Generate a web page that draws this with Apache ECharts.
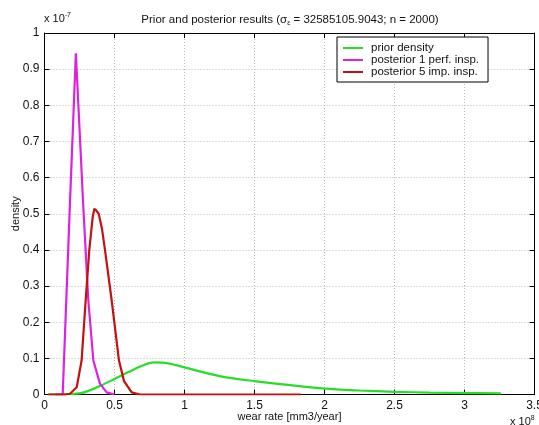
<!DOCTYPE html>
<html>
<head>
<meta charset="utf-8">
<script src="https://cdn.jsdelivr.net/npm/echarts@6/dist/echarts.min.js"></script>
<style>
html,body{margin:0;padding:0;background:#fff;}
#chart{width:539px;height:425px;}
</style>
</head>
<body>
<div id="chart"></div>
<script>
// x in units of 1e8 mm3/year, density in units of 1e-7
var xTicks = [0, 0.5, 1, 1.5, 2, 2.5, 3, 3.5];
var yTicks = [0, 0.1, 0.2, 0.3, 0.4, 0.5, 0.6, 0.7, 0.8, 0.9, 1];
var seriesNames = ['prior density', 'posterior 1 perf. insp.', 'posterior 5 imp. insp.'];

var priorX = [0.03, 0.1, 0.18, 0.25, 0.3, 0.4, 0.5, 0.6, 0.7, 0.78, 0.86, 0.93, 1.0, 1.25, 1.5, 1.75, 2.0, 2.25, 2.5, 2.75, 3.0, 3.26];
var priorY = [0, 0, 0.001, 0.003, 0.008, 0.024, 0.043, 0.062, 0.080, 0.0886, 0.0875, 0.082, 0.075, 0.051, 0.037, 0.026, 0.016, 0.011, 0.0075, 0.0052, 0.004, 0.0032];

var post1X = [0.08, 0.13, 0.182, 0.224, 0.277, 0.313, 0.349, 0.396, 0.444, 0.5];
var post1Y = [0, 0, 0.53, 0.944, 0.52, 0.26, 0.094, 0.03, 0.006, 0];

var post5X = [0.027, 0.15, 0.182, 0.23, 0.265, 0.294, 0.32, 0.344, 0.356, 0.372, 0.387, 0.41, 0.432, 0.48, 0.532, 0.568, 0.623, 0.68, 1.83];
var post5Y = [0, 0, 0.002, 0.02, 0.094, 0.26, 0.40, 0.49, 0.514, 0.508, 0.50, 0.46, 0.40, 0.26, 0.094, 0.037, 0.006, 0, 0];

function pairs(xs, ys){ return xs.map(function(x,i){ return [x, ys[i]]; }); }

var FONT = 'Liberation Sans, Arial, sans-serif';
var colors = ['#28dd28', '#dd22dd', '#c41010'];

var chart = echarts.init(document.getElementById('chart'), null, {renderer:'canvas'});

var hiddenAxisX = {
  type:'value', min:0, max:3.5, interval:0.5, position:'top',
  axisLine:{show:true, onZero:false, lineStyle:{color:'#000', width:1}},
  axisTick:{show:true, inside:true, length:5, lineStyle:{color:'#000'}},
  axisLabel:{show:false}, splitLine:{show:false}
};
var hiddenAxisY = {
  type:'value', min:0, max:1, interval:0.1, position:'right',
  axisLine:{show:true, onZero:false, lineStyle:{color:'#000', width:1}},
  axisTick:{show:true, inside:true, length:5, lineStyle:{color:'#000'}},
  axisLabel:{show:false}, splitLine:{show:false}
};

var option = {
  animation:false,
  backgroundColor:'#fff',
  textStyle:{fontFamily:FONT},
  title:{
    text:'{a|Prior and posterior results (σ}{s|ε}{a| = 32585105.9043; n = 2000)}',
    left:285, top:8, textAlign:'center',
    textStyle:{
      fontWeight:'normal',
      rich:{
        a:{fontFamily:FONT, fontSize:11.5, fontWeight:'normal', color:'#111', lineHeight:14},
        s:{fontFamily:FONT, fontSize:7, fontWeight:'normal', color:'#111', lineHeight:14, padding:[7,0,0,0]}
      }
    }
  },
  legend:{
    data:seriesNames,
    orient:'vertical',
    left:337, top:37,
    padding:[5,9,4,6],
    itemGap:0,
    itemWidth:20, itemHeight:2,
    icon:'rect',
    backgroundColor:'#fff',
    borderColor:'#000', borderWidth:1, borderRadius:0,
    textStyle:{fontFamily:FONT, fontSize:11.5, color:'#111', lineHeight:10.5, padding:[0,0,0,3]}
  },
  grid:{left:44.5, right:4.5, top:33, bottom:30.5, containLabel:false, outerBoundsMode:'none'},
  xAxis:[{
    type:'value', min:0, max:3.5, interval:0.5,
    name:'wear rate [mm3/year]', nameLocation:'middle', nameGap:17, nameMoveOverlap:false,
    nameTextStyle:{fontFamily:FONT, fontSize:11, color:'#111'},
    axisLine:{show:true, onZero:false, lineStyle:{color:'#000', width:1}},
    axisTick:{show:true, inside:true, length:5, lineStyle:{color:'#000'}},
    axisLabel:{fontFamily:FONT, fontSize:12, color:'#111', margin:5, hideOverlap:false,
      formatter:function(v){ return xTicks.indexOf(v) >= 0 ? String(v) : ''; }},
    splitLine:{show:true, lineStyle:{color:'#b8b8b8', type:[1,2], width:1}}
  }, hiddenAxisX],
  yAxis:[{
    type:'value', min:0, max:1, interval:0.1,
    name:'density', nameLocation:'middle', nameGap:23, nameMoveOverlap:false,
    nameTextStyle:{fontFamily:FONT, fontSize:11, color:'#111'},
    axisLine:{show:true, onZero:false, lineStyle:{color:'#000', width:1}},
    axisTick:{show:true, inside:true, length:5, lineStyle:{color:'#000'}},
    axisLabel:{fontFamily:FONT, fontSize:12, color:'#111', margin:5,
      formatter:function(v){ var r = Math.round(v*10)/10; return yTicks.indexOf(r) >= 0 ? String(r) : ''; }},
    splitLine:{show:true, lineStyle:{color:'#b8b8b8', type:[1,2], width:1}}
  }, hiddenAxisY],
  series:[
    {name:seriesNames[0], type:'line', data:pairs(priorX, priorY), showSymbol:false, smooth:0.3,
     lineStyle:{color:colors[0], width:2.2}, itemStyle:{color:colors[0]}, z:2},
    {name:seriesNames[1], type:'line', data:pairs(post1X, post1Y), showSymbol:false, smooth:false,
     lineStyle:{color:colors[1], width:2.2}, itemStyle:{color:colors[1]}, z:3},
    {name:seriesNames[2], type:'line', data:pairs(post5X, post5Y), showSymbol:false, smooth:false,
     lineStyle:{color:colors[2], width:2.2}, itemStyle:{color:colors[2]}, z:4}
  ],
  graphic:[
    {type:'text', left:44, top:9, style:{
      text:'{a|x 10}{b|-7}',
      rich:{a:{fontFamily:FONT, fontSize:11, fill:'#111', lineHeight:14, padding:[4,0,0,0]},
            b:{fontFamily:FONT, fontSize:7, fill:'#111', lineHeight:14, padding:[0,0,2,0]}}
    }},
    {type:'text', left:510, top:412, style:{
      text:'{a|x 10}{b|8}',
      rich:{a:{fontFamily:FONT, fontSize:11, fill:'#111', lineHeight:14, padding:[4,0,0,0]},
            b:{fontFamily:FONT, fontSize:7, fill:'#111', lineHeight:14, padding:[0,0,2,0]}}
    }}
  ]
};
chart.setOption(option);
</script>
</body>
</html>
